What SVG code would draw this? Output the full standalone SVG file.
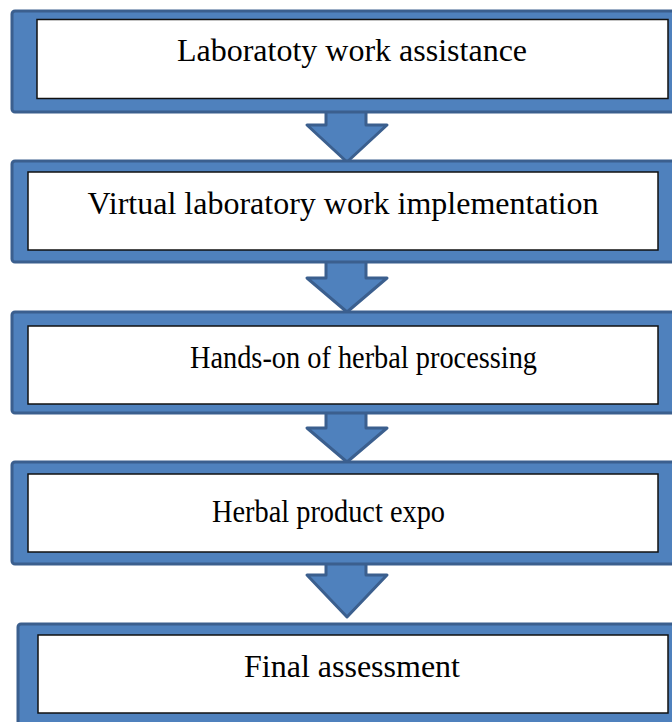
<svg xmlns="http://www.w3.org/2000/svg" width="672" height="722" viewBox="0 0 672 722">
<style>
.outer{fill:#4f81bd;stroke:#3b5f8e;stroke-width:3}
.inner{fill:#fff;stroke:#111;stroke-width:1.5}
.arrow{fill:#4f81bd;stroke:#3b5f8e;stroke-width:3;stroke-linejoin:round}
text{font-family:"Liberation Serif","Times New Roman",serif;font-size:32px;fill:#000}
</style>
<rect x="0" y="0" width="672" height="722" fill="#fff"/>
<g id="connectors">
<path class="arrow" d="M326,108 H366 V125 H387 L347,162 L307,125 H326 Z"/>
<path class="arrow" d="M326,261 H366 V278 H387 L347,312 L307,278 H326 Z"/>
<path class="arrow" d="M326,411 H366 V428 H387 L347,462 L307,428 H326 Z"/>
<path class="arrow" d="M326,563 H366 V575 H387 L347,617 L307,575 H326 Z"/>
</g>
<g id="n1">
<rect class="outer" x="12" y="11" width="680" height="101" rx="3"/>
<rect class="inner" x="37" y="19.5" width="631" height="79"/>
<text x="352" y="61" text-anchor="middle">Laboratoty work assistance</text>
</g>
<g id="n2">
<rect class="outer" x="12" y="161" width="680" height="101" rx="3"/>
<rect class="inner" x="28" y="172" width="630" height="78"/>
<text x="343" y="214" text-anchor="middle">Virtual laboratory work implementation</text>
</g>
<g id="n3">
<rect class="outer" x="12" y="312" width="680" height="101" rx="3"/>
<rect class="inner" x="28" y="326" width="630" height="78"/>
<text x="190" y="368" textLength="347" lengthAdjust="spacingAndGlyphs">Hands-on of herbal processing</text>
</g>
<g id="n4">
<rect class="outer" x="12" y="462" width="680" height="102" rx="3"/>
<rect class="inner" x="28" y="474" width="630" height="78"/>
<text x="212" y="522" textLength="233" lengthAdjust="spacingAndGlyphs">Herbal product expo</text>
</g>
<g id="n5">
<rect class="outer" x="18" y="624" width="680" height="110" rx="3"/>
<rect class="inner" x="38" y="635" width="630" height="78"/>
<text x="352" y="677" text-anchor="middle">Final assessment</text>
</g>
</svg>
